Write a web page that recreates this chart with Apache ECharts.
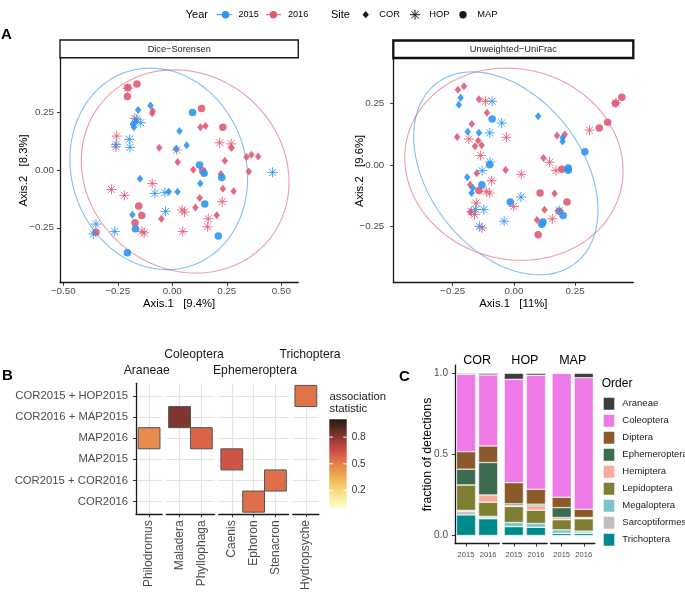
<!DOCTYPE html>
<html><head><meta charset="utf-8">
<script src="https://cdn.jsdelivr.net/npm/echarts@6/dist/echarts.min.js"></script>
<style>html,body{margin:0;padding:0;background:#fff}#c{width:685px;height:593px}</style>
</head><body><div id="c"></div>
<script>
// ---------------- DATA ----------------
// Panel A: PCoA coordinates [Axis.1, Axis.2]
const diceCOR2015 = [[-0.157,0.260],[-0.100,0.280],[-0.181,0.198],[-0.176,0.185],[-0.168,0.208],[0.033,0.169],[0.066,0.107],[0.018,0.092],[-0.148,-0.038],[-0.016,-0.094],[0.024,-0.094],[0.128,-0.058],[-0.183,-0.194]];
const diceHOP2015 = [[-0.163,0.220],[-0.145,0.205],[-0.258,0.111],[-0.197,0.133],[-0.194,0.098],[-0.080,-0.101],[-0.034,-0.098],[-0.031,-0.179],[-0.350,-0.234],[-0.362,-0.277],[-0.264,-0.266],[0.460,-0.010]];
const diceMAP2015 = [[0.093,0.249],[0.125,0.022],[0.146,-0.014],[0.227,-0.032],[0.149,-0.147],[0.211,-0.286],[-0.169,-0.254],[-0.206,-0.358]];
const diceCOR2016 = [[-0.090,0.256],[-0.092,0.246],[0.129,0.185],[0.152,0.191],[-0.060,0.097],[0.025,0.035],[0.271,0.096],[0.241,0.040],[0.340,0.056],[0.363,0.066],[0.394,0.059],[0.096,0.001],[0.351,-0.006],[0.223,-0.017],[0.232,-0.081],[0.281,-0.092],[0.126,-0.121],[0.106,-0.162],[0.204,-0.196],[-0.050,-0.211]];
const diceHOP2016 = [[-0.204,0.354],[-0.172,0.224],[-0.255,0.147],[-0.259,0.101],[0.021,0.087],[0.217,0.118],[0.270,0.113],[-0.092,-0.058],[-0.279,-0.084],[-0.220,-0.110],[0.045,-0.173],[0.056,-0.182],[0.229,-0.137],[0.165,-0.211],[0.162,-0.246],[-0.139,-0.266],[-0.129,-0.272],[0.048,-0.266]];
const diceMAP2016 = [[-0.204,0.357],[-0.162,0.373],[-0.206,0.318],[0.134,0.267],[0.232,0.185],[0.139,-0.003],[-0.154,-0.156],[-0.140,-0.197],[-0.171,-0.228],[-0.350,-0.269]];

const uniCOR2015 = [[-0.218,0.272],[-0.225,0.244],[-0.189,0.134],[-0.143,0.130],[-0.191,-0.050],[-0.168,-0.093],[-0.173,-0.114],[0.099,0.197],[0.199,0.110],[0.199,0.095]];
const uniHOP2015 = [[-0.089,0.258],[-0.050,0.170],[-0.099,0.130],[-0.097,0.012],[-0.130,-0.023],[-0.123,-0.181],[-0.040,-0.228],[-0.140,-0.249],[0.029,-0.130],[0.185,-0.185],[-0.157,-0.180]];
const uniMAP2015 = [[-0.089,0.186],[-0.099,0.001],[-0.131,-0.080],[0.290,0.053],[0.222,-0.012],[0.222,-0.021],[0.119,-0.231],[0.201,-0.205],[-0.015,-0.150],[0.114,-0.240]];
const uniCOR2016 = [[-0.229,0.305],[-0.204,0.319],[-0.143,0.266],[-0.110,0.211],[-0.172,0.166],[-0.232,0.113],[-0.146,0.098],[-0.159,0.076],[-0.132,0.080],[-0.034,-0.020],[-0.152,-0.034],[-0.179,-0.080],[-0.178,-0.191],[0.176,0.119],[0.208,0.123],[0.121,0.028],[0.166,-0.116],[0.125,-0.181],[0.094,-0.223]];
const uniHOP2016 = [[-0.116,0.258],[-0.031,0.112],[-0.184,0.105],[-0.136,0.038],[-0.091,-0.064],[-0.113,-0.107],[-0.099,-0.114],[-0.154,-0.154],[-0.174,-0.188],[-0.161,-0.201],[-0.130,-0.255],[0.030,-0.038],[-0.001,-0.168],[0.146,0.011],[0.172,-0.023],[0.157,-0.218],[0.417,0.251],[0.309,0.141]];
const uniMAP2016 = [[0.441,0.274],[0.415,0.250],[0.383,0.173],[0.349,0.150],[0.196,-0.017],[0.107,-0.114],[0.217,-0.150],[0.185,-0.188],[0.099,-0.283],[-0.143,-0.104]];

// ellipse parameters: [cx, cy, ax, ay, bx, by]  (point = c + a*cos t + b*sin t)
const diceEllipse2015 = [-0.062, 0.005, 0.407, -0.020, -0.020, 0.436];
const diceEllipse2016 = [0.059, -0.006, 0.475, -0.014, -0.035, 0.440];
const uniEllipse2015 = [-0.033, -0.034, 0.371, -0.081, -0.065, 0.403];
const uniEllipse2016 = [0.000, 0.003, 0.446, -0.015, -0.013, 0.389];

const diceXTicks = [-0.5,-0.25,0,0.25,0.5];
const diceXLabels = ['\u22120.50','\u22120.25','0.00','0.25','0.50'];
const diceYTicks = [-0.25,0,0.25];
const diceYLabels = ['\u22120.25','0.00','0.25'];
const uniXTicks = [-0.25,0,0.25];
const uniXLabels = ['\u22120.25','0.00','0.25'];
const uniYTicks = [-0.25,0,0.25];
const uniYLabels = ['\u22120.25','0.00','0.25'];

// Panel B: indicator species
const heatGenera = ['Philodromus','Maladera','Phyllophaga','Caenis','Ephoron','Stenacron','Hydropsyche'];
const heatOrders = ['Araneae','Coleoptera','Coleoptera','Ephemeroptera','Ephemeroptera','Ephemeroptera','Trichoptera'];
const heatFacets = ['Araneae','Coleoptera','Ephemeroptera','Trichoptera'];
const heatGroups = ['COR2016','COR2015 + COR2016','MAP2015','MAP2016','COR2016 + MAP2015','COR2015 + HOP2015']; // bottom -> top
const heatTileGroup = ['MAP2016','COR2016 + MAP2015','MAP2016','MAP2015','COR2016','COR2015 + COR2016','COR2015 + HOP2015'];
const heatStat = [0.46,0.82,0.58,0.63,0.55,0.55,0.54];
const heatLegendTicks = [0.2,0.5,0.8];

// Panel C: fraction of detections, stacked bottom -> top
const barSites = ['COR','HOP','MAP'];
const barYears = ['2015','2016'];
const barOrders = ['Trichoptera','Sarcoptiformes','Megaloptera','Lepidoptera','Hemiptera','Ephemeroptera','Diptera','Coleoptera','Araneae'];
const barCOR = {Trichoptera:[0.127,0.103],Sarcoptiformes:[0.020,0.005],Megaloptera:[0.008,0.010],Lepidoptera:[0.157,0.087],Hemiptera:[0.000,0.045],Ephemeroptera:[0.097,0.200],Diptera:[0.108,0.102],Coleoptera:[0.477,0.438],Araneae:[0.006,0.010]};
const barHOP = {Trichoptera:[0.055,0.051],Sarcoptiformes:[0.000,0.000],Megaloptera:[0.025,0.023],Lepidoptera:[0.099,0.082],Hemiptera:[0.006,0.027],Ephemeroptera:[0.010,0.010],Diptera:[0.131,0.092],Coleoptera:[0.637,0.703],Araneae:[0.037,0.012]};
const barMAP = {Trichoptera:[0.014,0.014],Sarcoptiformes:[0.000,0.001],Megaloptera:[0.021,0.012],Lepidoptera:[0.062,0.076],Hemiptera:[0.014,0.006],Ephemeroptera:[0.061,0.002],Diptera:[0.064,0.051],Coleoptera:[0.764,0.811],Araneae:[0.000,0.027]};
const barYTicks = [0,0.5,1];
const barYLabels = ['0.0','0.5','1.0'];

// ---------------- STYLE ----------------
const FONT = '"Liberation Sans", Arial, Helvetica, sans-serif';
const C2015 = '#2c95f3', C2016 = '#e05b73';
const ORDER_COLORS = {Araneae:'#3d3d3d',Coleoptera:'#ee7ae8',Diptera:'#8b5a2b',Ephemeroptera:'#3c6b50',Hemiptera:'#f9aa9e',Lepidoptera:'#7f7f33',Megaloptera:'#7ac5cd',Sarcoptiformes:'#bebebe',Trichoptera:'#008b8b'};
const HEAT_COLORS = ['#fffdd0','#fbefa6','#f6d978','#f0bd5c','#ea9e51','#e3824c','#d85c47','#b8443f','#8a3834','#552a22','#221a10'];
const STAR = 'path://M5,0L5,10M0,5L10,5M1.46,1.46L8.54,8.54M1.46,8.54L8.54,1.46';
const AXC = '#1a1a1a', TXT = '#4d4d4d';

function pick(vals, labels){return v=>{let b=0;vals.forEach((t,i)=>{if(Math.abs(t-v)<Math.abs(vals[b]-v))b=i;});return labels[b];};}
function ellipse(p){const pts=[];for(let i=0;i<=160;i++){const t=i/160*2*Math.PI;pts.push([p[0]+p[2]*Math.cos(t)+p[4]*Math.sin(t),p[1]+p[3]*Math.cos(t)+p[5]*Math.sin(t)]);}return pts;}

const grid=[], xAxis=[], yAxis=[], series=[], graphic=[];

// ---------- Panel A ----------
function scatterPanel(gi, g, xr, yr, xt, xl, yt, yl, xname, yname, yNameGap, yLabMargin, sets, ells){
  grid.push(Object.assign({containLabel:false}, g));
  xAxis.push({type:'value', gridIndex:gi, min:xr[0], max:xr[1],
    axisLine:{show:true,onZero:false,lineStyle:{color:AXC,width:1.3}},
    axisTick:{show:true,length:3,customValues:xt,lineStyle:{color:'#333'}},
    axisLabel:{customValues:xt,formatter:pick(xt,xl),color:TXT,fontSize:9.8,fontFamily:FONT,margin:4},
    splitLine:{show:false},
    name:xname,nameLocation:'middle',nameGap:16,nameMoveOverlap:false,nameTextStyle:{color:'#000',fontSize:11.3,fontFamily:FONT}});
  yAxis.push({type:'value', gridIndex:gi, min:yr[0], max:yr[1],
    axisLine:{show:true,onZero:false,lineStyle:{color:AXC,width:1.3}},
    axisTick:{show:true,length:3,customValues:yt,lineStyle:{color:'#333'}},
    axisLabel:{customValues:yt,formatter:pick(yt,yl),color:TXT,fontSize:9.8,fontFamily:FONT,margin:yLabMargin},
    splitLine:{show:false},
    name:yname,nameLocation:'middle',nameGap:yNameGap,nameRotate:90,nameMoveOverlap:false,nameTextStyle:{color:'#000',fontSize:11.3,fontFamily:FONT}});
  ells.forEach(([p,col])=>series.push({type:'line',xAxisIndex:gi,yAxisIndex:gi,data:ellipse(p),showSymbol:false,silent:true,
    lineStyle:{color:col,width:1.1,opacity:0.6},z:2,animation:false}));
  sets.forEach(([data,site,col])=>{
    const base={type:'scatter',xAxisIndex:gi,yAxisIndex:gi,data,silent:true,z:3,animation:false};
    if(site==='COR') series.push(Object.assign(base,{symbol:'diamond',symbolSize:[6.5,8],itemStyle:{color:col,opacity:0.9}}));
    else if(site==='MAP') series.push(Object.assign(base,{symbol:'circle',symbolSize:7.5,itemStyle:{color:col,opacity:0.9}}));
    else series.push(Object.assign(base,{symbol:STAR,symbolSize:10,itemStyle:{color:'rgba(0,0,0,0)',borderColor:col,borderWidth:1,opacity:0.85}}));
  });
}
scatterPanel(0,{left:60,top:58.3,width:238.3,height:224.4},[-0.515,0.578],[-0.488,0.484],
  diceXTicks,diceXLabels,diceYTicks,diceYLabels,'Axis.1   [9.4%]','Axis.2   [8.3%]',31,6,
  [[diceCOR2016,'COR',C2016],[diceMAP2016,'MAP',C2016],[diceHOP2016,'HOP',C2016],[diceCOR2015,'COR',C2015],[diceMAP2015,'MAP',C2015],[diceHOP2015,'HOP',C2015]],
  [[diceEllipse2015,C2015],[diceEllipse2016,C2016]]);
scatterPanel(1,{left:393.3,top:59.3,width:240,height:223.4},[-0.493,0.488],[-0.477,0.428],
  uniXTicks,uniXLabels,uniYTicks,uniYLabels,'Axis.1   [11%]','Axis.2   [9.6%]',28,9,
  [[uniCOR2016,'COR',C2016],[uniMAP2016,'MAP',C2016],[uniHOP2016,'HOP',C2016],[uniCOR2015,'COR',C2015],[uniMAP2015,'MAP',C2015],[uniHOP2015,'HOP',C2015]],
  [[uniEllipse2015,C2015],[uniEllipse2016,C2016]]);

// strips
graphic.push({type:'rect',shape:{x:60,y:40,width:238.3,height:17.7},style:{fill:'#fff',stroke:'#1a1a1a',lineWidth:1.4},z:10});
graphic.push({type:'text',x:179.2,y:49,style:{text:'Dice\u2212Sorensen',font:'9.2px '+FONT,fill:'#1a1a1a',textAlign:'center',align:'center',textVerticalAlign:'middle',verticalAlign:'middle'},z:11});
graphic.push({type:'rect',shape:{x:393.3,y:40.5,width:240,height:17.5},style:{fill:'#fff',stroke:'#111',lineWidth:2.3},z:10});
graphic.push({type:'text',x:513.3,y:49.3,style:{text:'Unweighted\u2212UniFrac',font:'9.3px '+FONT,fill:'#1a1a1a',textAlign:'center',align:'center',textVerticalAlign:'middle',verticalAlign:'middle'},z:11});

// ---------- Panel B ----------
const heatUnit=21.8, heatGap=4.3, heatLeft0=136, heatTop=383.3, heatH=131;
const heatSeriesIdx=[];
let hx=heatLeft0;
heatFacets.forEach((f,fi)=>{
  const gen=heatGenera.filter((g,i)=>heatOrders[i]===f);
  const n=gen.length, w=(n+0.2)*heatUnit, gi=2+fi;
  grid.push({left:hx,top:heatTop,width:w,height:heatH});
  const xt=gen.map((g,i)=>i+1), yt=heatGroups.map((g,i)=>i+1);
  xAxis.push({type:'value',gridIndex:gi,min:0.4,max:n+0.6,
    axisLine:{show:true,onZero:false,lineStyle:{color:AXC,width:1.3}},
    axisTick:{show:true,length:3,customValues:xt,lineStyle:{color:'#333'}},
    axisLabel:{customValues:xt,formatter:pick(xt,gen),rotate:90,color:TXT,fontSize:12,fontFamily:FONT,margin:6},
    splitLine:{show:true,lineStyle:{color:'#e3e3e3',width:1.2}}});
  yAxis.push({type:'value',gridIndex:gi,min:0.4,max:heatGroups.length+0.6,
    axisLine:{show:fi===0,onZero:false,lineStyle:{color:AXC,width:1.3}},
    axisTick:{show:fi===0,length:3,customValues:yt,lineStyle:{color:'#333'}},
    axisLabel:{show:fi===0,customValues:yt,formatter:pick(yt,heatGroups),color:TXT,fontSize:11.3,fontFamily:FONT,margin:8},
    splitLine:{show:true,lineStyle:{color:'#e3e3e3',width:1.2}}});
  const data=[];
  heatGenera.forEach((g,i)=>{ if(heatOrders[i]===f) data.push([gen.indexOf(g)+1, heatGroups.indexOf(heatTileGroup[i])+1, heatStat[i]]); });
  heatSeriesIdx.push(series.length);
  series.push({type:'custom',xAxisIndex:gi,yAxisIndex:gi,data,silent:true,animation:false,z:4,
    encode:{x:0,y:1},
    renderItem:(params,api)=>{
      const x=api.value(0), y=api.value(1);
      const p0=api.coord([x-0.5,y+0.5]), p1=api.coord([x+0.5,y-0.5]);
      return {type:'rect',shape:{x:p0[0],y:p0[1],width:p1[0]-p0[0],height:p1[1]-p0[1]},style:{fill:api.visual('color'),stroke:'#555',lineWidth:1}};
    }});
  hx+=w+heatGap;
});
// facet labels
[['Araneae',146.7,370.7],['Coleoptera',194,355],['Ephemeroptera',255,370.7],['Trichoptera',310,355]].forEach(([t,x,y])=>
  graphic.push({type:'text',x,y,style:{text:t,font:'12.2px '+FONT,fill:'#1a1a1a',textAlign:'center',align:'center',textVerticalAlign:'middle',verticalAlign:'middle'}}));
// colour bar
const cbX=329.3, cbY=419.3, cbW=17.4, cbH=89;
graphic.push({type:'rect',shape:{x:cbX,y:cbY,width:cbW,height:cbH},style:{fill:{type:'linear',x:0,y:1,x2:0,y2:0,colorStops:HEAT_COLORS.map((c,i)=>({offset:i/(HEAT_COLORS.length-1),color:c}))}}});
heatLegendTicks.forEach(v=>{
  const y=cbY+cbH*(1-v);
  graphic.push({type:'line',shape:{x1:cbX,y1:y,x2:cbX+3.5,y2:y},style:{stroke:'#fff',lineWidth:1}});
  graphic.push({type:'line',shape:{x1:cbX+cbW-3.5,y1:y,x2:cbX+cbW,y2:y},style:{stroke:'#fff',lineWidth:1}});
  graphic.push({type:'text',x:cbX+cbW+5,y,style:{text:v.toFixed(1),font:'10px '+FONT,fill:'#333',textAlign:'left',align:'left',textVerticalAlign:'middle',verticalAlign:'middle'}});
});
graphic.push({type:'text',x:329.5,y:396.7,style:{text:'association',font:'11.3px '+FONT,fill:'#1a1a1a',textAlign:'left',align:'left',textVerticalAlign:'middle',verticalAlign:'middle'}});
graphic.push({type:'text',x:329.5,y:409.3,style:{text:'statistic',font:'11.3px '+FONT,fill:'#1a1a1a',textAlign:'left',align:'left',textVerticalAlign:'middle',verticalAlign:'middle'}});

// ---------- Panel C ----------
const barSets=[barCOR,barHOP,barMAP];
const barW=44.2, barGap=3.6, barLeft0=455, barTop=365.2, barH=178.4;
let bx=barLeft0;
barSites.forEach((s,si)=>{
  const gi=6+si;
  grid.push({left:bx,top:barTop,width:barW,height:barH});
  xAxis.push({type:'category',gridIndex:gi,data:barYears,boundaryGap:true,
    axisLine:{show:true,onZero:false,lineStyle:{color:AXC,width:1.3}},
    axisTick:{show:true,length:3,alignWithLabel:true,lineStyle:{color:'#333'}},
    axisLabel:{color:TXT,fontSize:7.6,fontFamily:FONT,margin:7,interval:0},
    splitLine:{show:false}});
  yAxis.push({type:'value',gridIndex:gi,min:-0.05,max:1.05,
    axisLine:{show:si===0,onZero:false,lineStyle:{color:AXC,width:1.3}},
    axisTick:{show:si===0,length:3,customValues:barYTicks,lineStyle:{color:'#333'}},
    axisLabel:{show:si===0,customValues:barYTicks,formatter:pick(barYTicks,barYLabels),color:TXT,fontSize:10,fontFamily:FONT,margin:7},
    splitLine:{show:false},
    name:si===0?'fraction of detections':'',nameLocation:'middle',nameGap:21,nameRotate:90,nameMoveOverlap:false,nameTextStyle:{color:'#000',fontSize:12.3,fontFamily:FONT}});
  barOrders.forEach(o=>{
    series.push({type:'bar',name:o,xAxisIndex:gi,yAxisIndex:gi,stack:'s'+s,barWidth:19.2,silent:true,animation:false,
      data:barSets[si][o],
      itemStyle:{color:ORDER_COLORS[o],borderColor:'#fff',borderWidth:0.5}});
  });
  graphic.push({type:'text',x:bx+barW/2,y:361,style:{text:s,font:'12.5px '+FONT,fill:'#000',textAlign:'center',align:'center',textVerticalAlign:'middle',verticalAlign:'middle'}});
  bx+=barW+barGap;
});
graphic.push({type:'text',x:601.7,y:383.3,style:{text:'Order',font:'12px '+FONT,fill:'#000',textAlign:'left',align:'left',textVerticalAlign:'middle',verticalAlign:'middle'}});

// ---------- Top legend ----------
function gtext(t,x,y,size,weight){return {type:'text',x,y,style:{text:t,font:(weight||'normal')+' '+size+'px '+FONT,fill:'#000',textAlign:'left',align:'left',textVerticalAlign:'middle',verticalAlign:'middle'}};}
const LY=14.7;
graphic.push(gtext('Year',185.7,LY,11));
graphic.push({type:'line',shape:{x1:216.7,y1:LY,x2:231.7,y2:LY},style:{stroke:C2015,lineWidth:1}});
graphic.push({type:'circle',shape:{cx:225.5,cy:LY,r:3.7},style:{fill:C2015}});
graphic.push(gtext('2015',238.5,LY,9.1));
graphic.push({type:'line',shape:{x1:266,y1:LY,x2:281,y2:LY},style:{stroke:C2016,lineWidth:1}});
graphic.push({type:'circle',shape:{cx:273.4,cy:LY,r:3.7},style:{fill:C2016}});
graphic.push(gtext('2016',288,LY,9.1));
graphic.push(gtext('Site',331,LY,11));
graphic.push({type:'polygon',shape:{points:[[365.7,LY-3.6],[368.9,LY],[365.7,LY+3.6],[362.5,LY]]},style:{fill:'#1a1a1a'}});
graphic.push(gtext('COR',379.3,LY,9.3));
[[0,-5,0,5],[-5,0,5,0],[-3.6,-3.6,3.6,3.6],[-3.6,3.6,3.6,-3.6]].forEach(([a,b,c,d])=>
  graphic.push({type:'line',shape:{x1:415+a,y1:LY+b,x2:415+c,y2:LY+d},style:{stroke:'#1a1a1a',lineWidth:1}}));
graphic.push(gtext('HOP',429.3,LY,9.3));
graphic.push({type:'circle',shape:{cx:463,cy:LY,r:3.7},style:{fill:'#1a1a1a'}});
graphic.push(gtext('MAP',477.3,LY,9.3));

// panel letters
graphic.push(gtext('A',1,35,15,'bold'));
graphic.push(gtext('B',2,376,15,'bold'));
graphic.push(gtext('C',399,377,15,'bold'));

const option={
  animation:false,
  textStyle:{fontFamily:FONT},
  grid, xAxis, yAxis, series, graphic,
  visualMap:{type:'continuous',show:false,min:0,max:1,dimension:2,seriesIndex:heatSeriesIdx,inRange:{color:HEAT_COLORS}},
  legend:{show:true,orient:'vertical',left:601.7,top:395.7,padding:0,itemGap:1,itemWidth:12.6,itemHeight:14,icon:'rect',
    selectedMode:false,data:['Araneae','Coleoptera','Diptera','Ephemeroptera','Hemiptera','Lepidoptera','Megaloptera','Sarcoptiformes','Trichoptera'],
    textStyle:{fontSize:9.5,color:'#1a1a1a',fontFamily:FONT,padding:[0,0,0,2]}}
};
const chart=echarts.init(document.getElementById('c'),null,{renderer:'canvas'});
chart.setOption(option);
</script>
</body></html>
